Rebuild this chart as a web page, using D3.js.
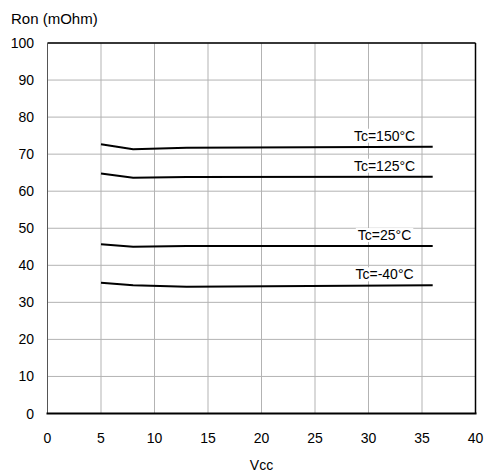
<!DOCTYPE html>
<html><head><meta charset="utf-8">
<script src="https://cdn.jsdelivr.net/npm/d3@7/dist/d3.min.js"></script>
<style>body{margin:0;background:#fff}svg{display:block}text{font-family:"Liberation Sans",Arial,sans-serif;fill:#000}</style>
</head><body><svg id="c" width="487" height="473"></svg>
<script>
const vcc = [5, 8, 13, 36];
const tc150 = [72.7, 71.3, 71.7, 72.0];
const tc125 = [64.8, 63.6, 63.8, 63.9];
const tc25 = [45.7, 45.0, 45.2, 45.2];
const tcm40 = [35.3, 34.6, 34.2, 34.6];
const seriesLabels = ["Tc=150°C", "Tc=125°C", "Tc=25°C", "Tc=-40°C"];
const xTicks = [0,5,10,15,20,25,30,35,40];
const yTicks = [0,10,20,30,40,50,60,70,80,90,100];

const series = [tc150, tc125, tc25, tcm40];
const svg = d3.select("#c");
const L=47.5, R=475.5, T=43, B=413.5;
const x = d3.scaleLinear().domain([0,40]).range([L,R]);
const y = d3.scaleLinear().domain([0,100]).range([B,T]);

const g = svg.append("g");
// grid
g.selectAll(".vg").data(xTicks).join("line")
  .attr("x1",d=>x(d)).attr("x2",d=>x(d)).attr("y1",T).attr("y2",B)
  .attr("stroke","#b3b3b3").attr("stroke-width",1);
g.selectAll(".hg").data(yTicks).join("line")
  .attr("x1",L).attr("x2",R).attr("y1",d=>y(d)).attr("y2",d=>y(d))
  .attr("stroke","#b3b3b3").attr("stroke-width",1);

// lines
const line = d3.line().x((d,i)=>x(vcc[i])).y(d=>y(d));
series.forEach(s=>{
  g.append("path").attr("d",line(s)).attr("fill","none").attr("stroke","#000").attr("stroke-width",2);
});
// labels with white backgrounds
series.forEach((s,i)=>{
  const cx = x(31.5), cy = y(s[s.length-1]) - 6;
  const t = g.append("text").attr("x",cx).attr("y",cy).attr("text-anchor","middle")
    .attr("font-size",14).text(seriesLabels[i]);
  const bb = t.node().getBBox();
  g.insert("rect", function(){return t.node();})
    .attr("x",bb.x-2).attr("y",bb.y+1).attr("width",bb.width+4).attr("height",bb.height-2)
    .attr("fill","#fff");
});

// borders
g.append("line").attr("x1",L).attr("x2",R).attr("y1",T).attr("y2",T).attr("stroke","#000").attr("stroke-width",1.5);
g.append("line").attr("x1",R).attr("x2",R).attr("y1",T).attr("y2",B).attr("stroke","#000").attr("stroke-width",1.5);
g.append("line").attr("x1",L).attr("x2",L).attr("y1",T).attr("y2",B).attr("stroke","#555").attr("stroke-width",1);
g.append("line").attr("x1",L-1).attr("x2",R+1).attr("y1",B).attr("y2",B).attr("stroke","#000").attr("stroke-width",2);

// tick labels
g.selectAll(".yl").data(yTicks).join("text")
  .attr("x",34).attr("y",d=>y(d)+5).attr("text-anchor","end").attr("font-size",14).text(d=>d);
g.selectAll(".xl").data(xTicks).join("text")
  .attr("x",d=>x(d)).attr("y",442.5).attr("text-anchor","middle").attr("font-size",14).text(d=>d);

svg.append("text").attr("x",x(20)).attr("y",470).attr("text-anchor","middle").attr("font-size",14).text("Vcc");
svg.append("text").attr("x",11).attr("y",24).attr("font-size",15).text("Ron (mOhm)");
</script></body></html>
